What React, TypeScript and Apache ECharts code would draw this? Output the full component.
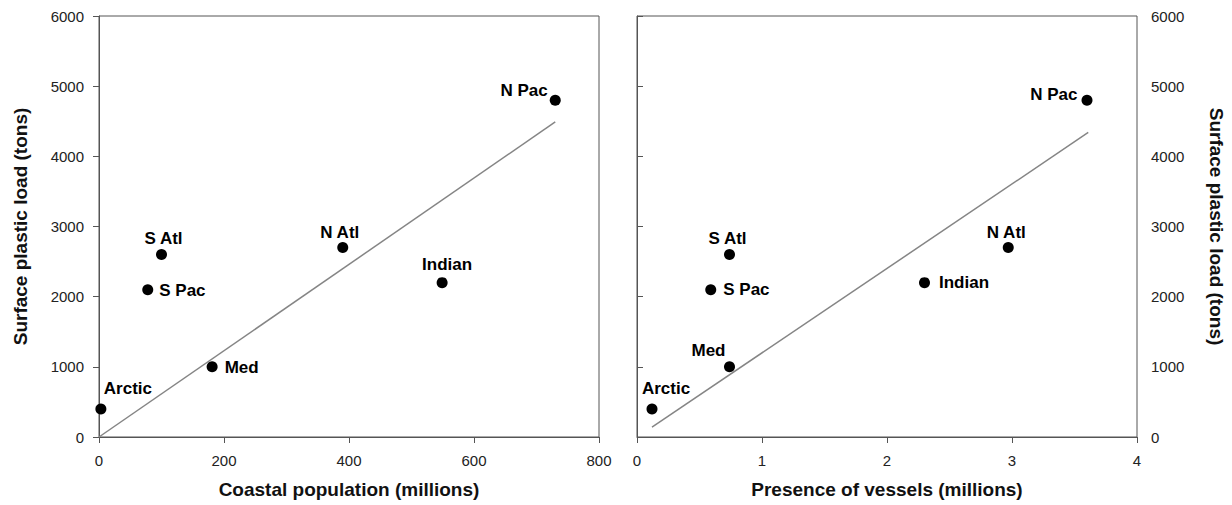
import React, { useEffect, useRef } from "react";
import * as echarts from "echarts";

// ---- data ----
const regions = ["N Pac", "S Atl", "S Pac", "N Atl", "Indian", "Med", "Arctic"];
const plasticLoad = [4800, 2600, 2100, 2700, 2200, 1000, 400];
const coastalPopulation = [730, 100, 78, 390, 549, 181, 3];
const vesselPresence = [3.6, 0.74, 0.59, 2.97, 2.3, 0.74, 0.12];
const popFitX = [0, 730];
const popFitY = [0, 4490];
const vesselFitX = [0.12, 3.61];
const vesselFitY = [140, 4340];

// ---- label placement (style) ----
type LS = { position: string; distance: number; offset: number[] };
const popLabelStyle: Record<string, LS> = {
  "N Pac": { position: "left", distance: 2, offset: [0, -10] },
  "S Atl": { position: "top", distance: 2, offset: [2, 0] },
  "S Pac": { position: "right", distance: 6, offset: [0, 1] },
  "N Atl": { position: "top", distance: 1, offset: [-3, 0] },
  Indian: { position: "top", distance: 4, offset: [5, 0] },
  Med: { position: "right", distance: 7, offset: [0, 1] },
  Arctic: { position: "top", distance: 6, offset: [27, 0] },
};
const vesselLabelStyle: Record<string, LS> = {
  "N Pac": { position: "left", distance: 4, offset: [0, -6] },
  "S Atl": { position: "top", distance: 2, offset: [-2, 0] },
  "S Pac": { position: "right", distance: 7, offset: [0, 0] },
  "N Atl": { position: "top", distance: 1, offset: [-2, 0] },
  Indian: { position: "right", distance: 9, offset: [0, 0] },
  Med: { position: "top", distance: 2, offset: [-21, 0] },
  Arctic: { position: "top", distance: 6, offset: [14, 0] },
};

const FONT = "'Liberation Sans', Arial, Helvetica, sans-serif";
const FRAME = "#555555";

function scatterData(xs: number[], style: Record<string, LS>) {
  return regions.map((name, i) => ({
    name,
    value: [xs[i], plasticLoad[i]],
    label: {
      show: true,
      formatter: name,
      position: style[name].position,
      distance: style[name].distance,
      offset: style[name].offset,
    },
  }));
}

export default function App() {
  const ref = useRef<HTMLDivElement>(null);
  useEffect(() => {
    document.body.style.margin = "0";
    if (!ref.current) return;
    const chart = echarts.init(ref.current, null, { renderer: "svg" });
    const plain = (v: number) => String(v);
    const axisCommon = {
      axisLine: { show: true, lineStyle: { color: FRAME, width: 1 } },
      axisTick: { show: true, length: 6, inside: false, lineStyle: { color: FRAME } },
      splitLine: { show: false },
      axisLabel: { color: "#222", fontSize: 15, fontFamily: FONT, formatter: plain },
      nameLocation: "middle",
      nameTextStyle: { color: "#111", fontSize: 19, fontWeight: "bold", fontFamily: FONT },
    };
    chart.setOption({
      animation: false,
      backgroundColor: "#ffffff",
      grid: [
        { left: 99, top: 16, width: 500, height: 421, show: true, borderColor: FRAME, borderWidth: 1 },
        { left: 637, top: 16, width: 500, height: 421, show: true, borderColor: FRAME, borderWidth: 1 },
      ],
      xAxis: [
        {
          ...axisCommon,
          type: "value",
          gridIndex: 0,
          min: 0,
          max: 800,
          interval: 200,
          name: "Coastal population (millions)",
          nameGap: 43,
          axisLabel: { ...axisCommon.axisLabel, margin: 16 },
        },
        {
          ...axisCommon,
          type: "value",
          gridIndex: 1,
          min: 0,
          max: 4,
          interval: 1,
          name: "Presence of vessels (millions)",
          nameGap: 43,
          axisLabel: { ...axisCommon.axisLabel, margin: 16 },
        },
      ],
      yAxis: [
        {
          ...axisCommon,
          type: "value",
          gridIndex: 0,
          min: 0,
          max: 6000,
          interval: 1000,
          name: "Surface plastic load (tons)",
          nameGap: 69,
          axisLabel: { ...axisCommon.axisLabel, margin: 15 },
        },
        {
          ...axisCommon,
          type: "value",
          gridIndex: 1,
          position: "right",
          min: 0,
          max: 6000,
          interval: 1000,
          name: "Surface plastic load (tons)",
          nameGap: 70,
          nameRotate: -90,
          axisLabel: { ...axisCommon.axisLabel, margin: 14 },
        },
      ],
      series: [
        {
          type: "line",
          xAxisIndex: 0,
          yAxisIndex: 0,
          data: popFitX.map((x, i) => [x, popFitY[i]]),
          showSymbol: false,
          symbol: "none",
          lineStyle: { color: "#858585", width: 1.5 },
          silent: true,
          z: 1,
        },
        {
          type: "line",
          xAxisIndex: 1,
          yAxisIndex: 1,
          data: vesselFitX.map((x, i) => [x, vesselFitY[i]]),
          showSymbol: false,
          symbol: "none",
          lineStyle: { color: "#858585", width: 1.5 },
          silent: true,
          z: 1,
        },
        {
          type: "scatter",
          xAxisIndex: 0,
          yAxisIndex: 0,
          symbol: "circle",
          symbolSize: 11,
          itemStyle: { color: "#000", opacity: 1 },
          label: { color: "#000", fontSize: 17, fontWeight: "bold", fontFamily: FONT },
          data: scatterData(coastalPopulation, popLabelStyle),
          z: 3,
        },
        {
          type: "scatter",
          xAxisIndex: 1,
          yAxisIndex: 1,
          symbol: "circle",
          symbolSize: 11,
          itemStyle: { color: "#000", opacity: 1 },
          label: { color: "#000", fontSize: 17, fontWeight: "bold", fontFamily: FONT },
          data: scatterData(vesselPresence, vesselLabelStyle),
          z: 3,
        },
      ],
    });
    return () => chart.dispose();
  }, []);
  return <div ref={ref} style={{ width: 1232, height: 505 }} />;
}
